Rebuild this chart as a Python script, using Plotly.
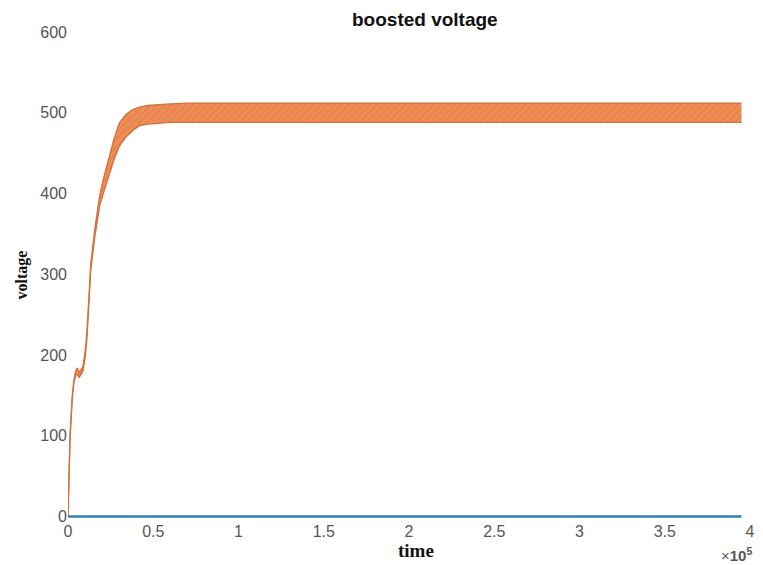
import plotly.graph_objects as go

# time in units of 1e5
t = [0, 0.005, 0.012, 0.025, 0.035, 0.045, 0.055, 0.065, 0.075, 0.088, 0.10, 0.11, 0.12, 0.133,
     0.157, 0.186, 0.21, 0.24, 0.27, 0.30, 0.34, 0.38, 0.42, 0.47, 0.52, 0.6, 0.7, 0.85, 1.0,
     1.5, 2.0, 2.5, 3.0, 3.5, 3.95]
v_upper = [0, 45, 100, 150, 170, 181, 184, 178, 181, 186, 204, 225, 262, 312,
           356, 398, 420, 445, 468, 487, 498, 504, 507, 509, 510, 511, 512, 512, 512,
           512, 512, 512, 512, 512, 512]
v_lower = [0, 43, 98, 146, 166, 175, 176, 172, 175, 180, 196, 217, 254, 304,
           346, 385, 402, 422, 442, 458, 470, 478, 484, 486, 487, 488, 488, 488, 488,
           488, 488, 488, 488, 488, 488]
t_input = [0, 3.95]
v_input = [0, 0]

x_ticks = [0, 0.5, 1, 1.5, 2, 2.5, 3, 3.5, 4]
x_ticktext = ["0", "0.5", "1", "1.5", "2", "2.5", "3", "3.5", "4"]
y_ticks = [0, 100, 200, 300, 400, 500, 600]

orange_fill = "#ef8d57"
orange_edge = "#d2703f"
blue = "#2f7fb0"

fig = go.Figure()
fig.add_trace(go.Scatter(x=t, y=v_lower, mode="lines",
                         line=dict(color=orange_edge, width=1.3), showlegend=False))
fig.add_trace(go.Scatter(x=t, y=v_upper, mode="lines", fill="tonexty",
                         fillcolor=orange_fill,
                         fillpattern=dict(shape="/", fgcolor="#d8703e", bgcolor=orange_fill,
                                          size=5, solidity=0.25),
                         line=dict(color=orange_edge, width=1.3), showlegend=False))
fig.add_trace(go.Scatter(x=t_input, y=v_input, mode="lines",
                         line=dict(color=blue, width=2.5), showlegend=False))

tickfont = dict(family="Liberation Sans, Arial", size=16, color="#555555")
fig.update_layout(
    width=763, height=565,
    margin=dict(l=68, r=8, t=32, b=46),
    paper_bgcolor="white", plot_bgcolor="white",
    xaxis=dict(range=[0, 4], tickvals=x_ticks, ticktext=x_ticktext, showgrid=False,
               zeroline=False, showline=False, ticks="", tickfont=tickfont,
               ticklabelstandoff=1),
    yaxis=dict(range=[-3, 600], tickvals=y_ticks, showgrid=False, zeroline=False,
               showline=False, ticks="", tickfont=tickfont, ticklabelstandoff=0),
    annotations=[
        dict(text="<b>boosted voltage</b>", x=(428 - 68) / (763 - 68 - 8), y=1,
             xref="paper", yref="paper", yanchor="bottom", yshift=0,
             showarrow=False, font=dict(family="Liberation Sans, Arial", size=19, color="#111111")),
        dict(text="<b>time</b>", x=0.5, y=0, xref="paper", yref="paper", yanchor="middle",
             yshift=-31, xshift=7, showarrow=False,
             font=dict(family="Liberation Serif, Times New Roman", size=19, color="#111111")),
        dict(text="<b>voltage</b>", x=0, y=0.5, xref="paper", yref="paper", xanchor="center",
             xshift=-47, textangle=-90, showarrow=False,
             font=dict(family="Liberation Serif, Times New Roman", size=16, color="#111111")),
        dict(text="×<b>10<sup>5</sup></b>", x=1, y=0, xref="paper", yref="paper",
             xanchor="right", yanchor="middle", yshift=-35, xshift=4, showarrow=False,
             font=dict(family="Liberation Sans, Arial", size=15, color="#555555")),
    ],
)

fig.write_html("out.html")
